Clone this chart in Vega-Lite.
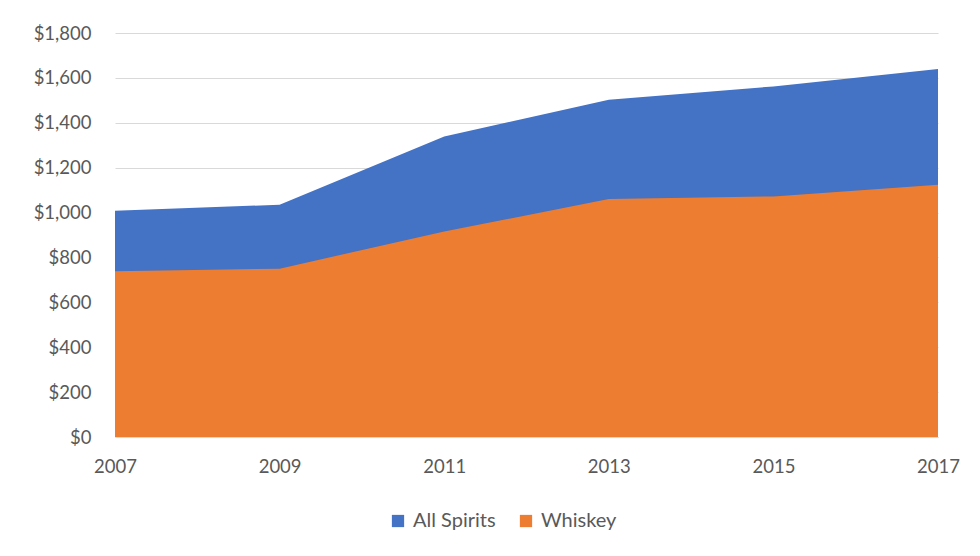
{
  "$schema": "https://vega.github.io/schema/vega-lite/v6.json",
  "autosize": "none",
  "width": 823,
  "height": 404,
  "padding": {"left": 115, "top": 33, "right": 42, "bottom": 119},
  "background": "white",
  "config": {
    "font": "Lato",
    "view": {"stroke": null},
    "axis": {"labelFont": "Lato", "labelColor": "#595959", "labelFontSize": 18.5}
  },
  "data": {
    "values": [
      {"year": 2007, "series": "All Spirits", "value": 1008},
      {"year": 2009, "series": "All Spirits", "value": 1035},
      {"year": 2011, "series": "All Spirits", "value": 1339},
      {"year": 2013, "series": "All Spirits", "value": 1503},
      {"year": 2015, "series": "All Spirits", "value": 1562},
      {"year": 2017, "series": "All Spirits", "value": 1640},
      {"year": 2007, "series": "Whiskey", "value": 738},
      {"year": 2009, "series": "Whiskey", "value": 750},
      {"year": 2011, "series": "Whiskey", "value": 916},
      {"year": 2013, "series": "Whiskey", "value": 1060},
      {"year": 2015, "series": "Whiskey", "value": 1072},
      {"year": 2017, "series": "Whiskey", "value": 1124}
    ]
  },
  "encoding": {
    "x": {
      "field": "year", "type": "quantitative",
      "scale": {"domain": [2007, 2017], "nice": false, "zero": false},
      "axis": {"title": null, "values": [2007, 2009, 2011, 2013, 2015, 2017], "format": "d", "grid": false, "ticks": false, "domainColor": "#d9d9d9", "labelPadding": 20, "labelFlush": false}
    },
    "y": {
      "field": "value", "type": "quantitative", "stack": null,
      "scale": {"domain": [0, 1800], "nice": false},
      "axis": {"title": null, "values": [0, 200, 400, 600, 800, 1000, 1200, 1400, 1600, 1800], "format": "$,.0f", "domain": false, "ticks": false, "gridColor": "#d9d9d9", "labelPadding": 24}
    },
    "color": {
      "field": "series", "type": "nominal",
      "scale": {"domain": ["All Spirits", "Whiskey"], "range": ["#4472C4", "#ED7D31"]},
      "legend": {
        "title": null, "orient": "none", "direction": "horizontal",
        "legendX": 273, "legendY": 478,
        "symbolType": "square", "symbolSize": 150, "symbolStrokeWidth": 0,
        "labelFontSize": 20, "labelColor": "#595959", "labelFont": "Lato",
        "columnPadding": 20, "labelOffset": 5
      }
    }
  },
  "layer": [
    {"transform": [{"filter": "datum.series === 'All Spirits'"}], "mark": {"type": "area", "opacity": 1}},
    {"transform": [{"filter": "datum.series === 'Whiskey'"}], "mark": {"type": "area", "opacity": 1}}
  ]
}
